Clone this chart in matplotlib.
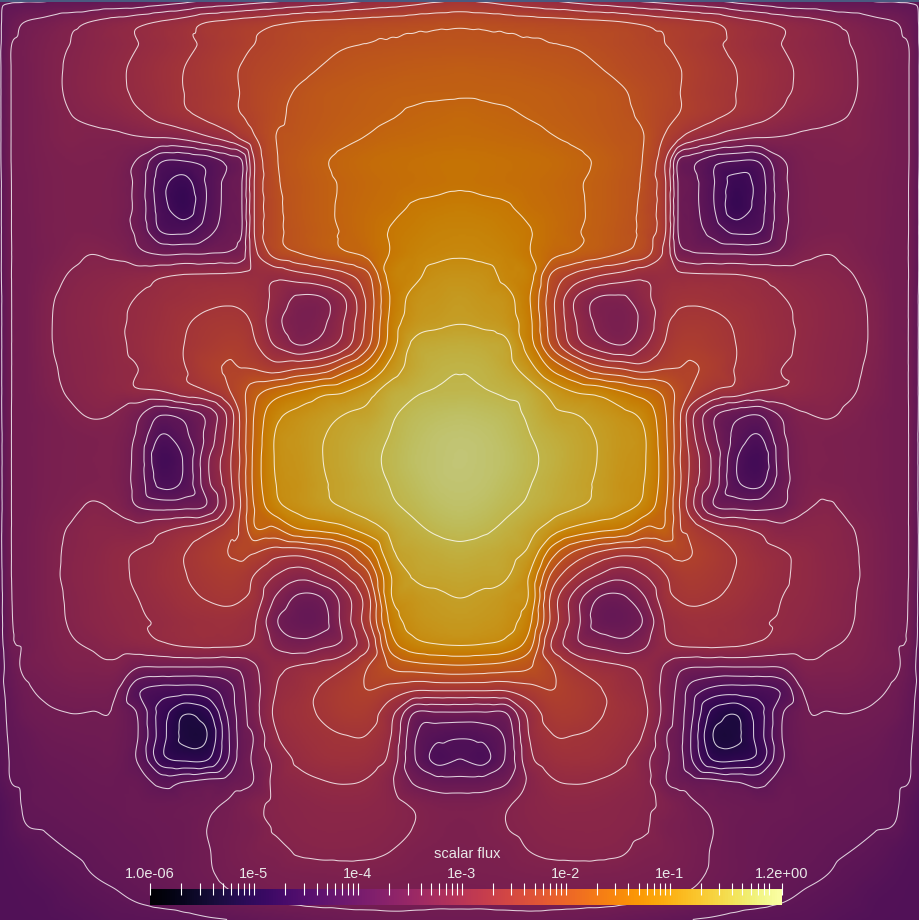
# scalar flux map with contours
import numpy as np
import matplotlib
matplotlib.use('Agg')
from matplotlib import pyplot as plt
from matplotlib import tri
from matplotlib.colors import ListedColormap

plt.rcParams['font.family'] = ['Liberation Sans', 'DejaVu Sans']

# sample positions in image pixels, left half only (the map is mirrored about x=460)
x_samples = list(range(0, 461, 23))
y_samples = list(range(0, 921, 23))

# flux, in contour-line units: line k sits at level k
flux_levels = [
    [-.2, -.1, -.1, -.1, -.1, -.05, 0, .3, .6, .95, 1.2, 1.5, 1.75, 2, 2.3, 2.6, 2.9, 3.2, 3.5, 3.8, 4],
    [-.1, 1, 1.3, 1.7, 2.1, 2.45, 2.8, 3.15, 3.5, 4.05, 4.3, 4.55, 4.85, 5.1, 5.25, 5.35, 5.45, 5.55, 5.65, 5.75, 5.8],
    [-.1, 1.2, 1.65, 2, 2.35, 2.65, 3, 3.35, 3.75, 4.2, 4.6, 5, 5.25, 5.5, 5.75, 5.95, 6.05, 6.12, 6.18, 6.22, 6.25],
    [-.1, 1.2, 1.7, 2.1, 2.45, 2.8, 3.2, 3.6, 4, 4.4, 4.85, 5.2, 5.45, 5.75, 6.05, 6.25, 6.4, 6.5, 6.6, 6.65, 6.7],
    [-.1, 1.2, 1.7, 2.1, 2.45, 2.8, 3.15, 3.55, 4, 4.35, 4.8, 5.3, 5.7, 6.1, 6.4, 6.55, 6.7, 6.8, 6.85, 6.88, 6.9],
    [-.1, 1.2, 1.6, 1.97, 2.2, 2.45, 2.85, 3.35, 3.8, 4.25, 4.75, 5.2, 5.8, 6.2, 6.45, 6.65, 6.8, 6.95, 7.1, 7.2, 7.3],
    [-.1, 1.2, 1.6, 1.9, 1.8, 1.8, 1.92, 1.97, 2.2, 2.8, 3.5, 4.8, 6, 6.3, 6.6, 6.85, 7.05, 7.25, 7.35, 7.45, 7.5],
    [-.1, 1.2, 1.5, 1.65, 1.65, 1.55, .9, -.9, -1, -.6, .4, 3.8, 5.9, 6.5, 6.9, 7.2, 7.45, 7.6, 7.7, 7.8, 7.85],
    [-.15, 1.15, 1.45, 1.6, 1.6, 1.45, .7, -1.6, -2.4, -.9, .5, 3.8, 5.8, 6.4, 6.8, 7.1, 7.35, 7.55, 7.7, 7.8, 7.9],
    [-.15, 1.15, 1.45, 1.6, 1.6, 1.45, .7, -1.5, -2.6, -.9, .5, 3.8, 5.7, 6.4, 6.8, 7.15, 7.45, 7.7, 8.1, 8.25, 8.35],
    [-.15, 1.1, 1.45, 1.6, 1.6, 1.45, .75, -1.1, -1.3, -.4, .6, 3.8, 5.7, 6.3, 6.75, 7.1, 7.55, 8.05, 8.35, 8.6, 8.65],
    [-.15, 1.1, 1.4, 1.75, 1.98, 1.8, 1.2, .85, .9, .95, 1.1, 3.5, 5.45, 6, 6.5, 6.9, 7.3, 8.05, 8.6, 8.8, 8.9],
    [-.15, 1.1, 1.6, 2.05, 2.3, 2.45, 2.6, 2.9, 3.1, 3.15, 3.2, 3.3, 3.2, 3.6, 4, 4.7, 5.8, 8.4, 8.8, 9.3, 9.4],
    [-.2, 1.1, 1.8, 2.25, 2.5, 2.75, 3.05, 3.35, 3.55, 3.75, 3.85, 3.6, 2.7, 1.8, 1.9, 3, 5.3, 8.1, 9.3, 9.55, 9.75],
    [-.2, 1.1, 1.85, 2.3, 2.55, 2.85, 3.15, 3.5, 3.9, 4.2, 4.3, 3.9, 2.3, 1.45, 1.8, 3.1, 5.4, 8.3, 9.5, 9.8, 9.95],
    [-.2, 1.1, 1.85, 2.25, 2.5, 2.8, 3.2, 3.6, 4, 4.4, 4.7, 4.2, 2.9, 2, 2.5, 3.6, 5.8, 8.5, 10.2, 10.5, 10.6],
    [-.2, 1.1, 1.75, 2.2, 2.45, 2.75, 3, 3.55, 3.95, 4.7, 5.1, 4.95, 4.5, 4.9, 5.3, 6.5, 7.8, 9.4, 10.4, 10.85, 10.95],
    [-.2, 1.1, 1.65, 2.1, 2.4, 2.65, 2.9, 3, 3.6, 4, 5, 6.5, 7.4, 8, 8.6, 8.9, 9.6, 10.5, 10.85, 11.05, 11.1],
    [-.2, 1.1, 1.4, 1.8, 2.1, 1.95, 1.2, .1, .4, 1.3, 3.5, 6.9, 8.7, 9.25, 9.65, 10, 10.2, 10.85, 11.3, 11.5, 11.6],
    [-.25, 1.1, 1.4, 1.55, 1.65, 1.65, .8, -1.1, -.3, 1.3, 3.6, 7, 9.1, 9.55, 9.95, 10.3, 10.65, 11.05, 11.5, 11.8, 11.9],
    [-.25, 1.1, 1.4, 1.55, 1.65, 1.6, .6, -1.8, -.9, 1.8, 3.9, 7.1, 9.1, 9.5, 9.98, 10.35, 10.8, 11.15, 11.6, 11.85, 12],
    [-.25, 1.1, 1.4, 1.55, 1.65, 1.6, .6, -1.3, -.8, 1.7, 3.8, 7.1, 9, 9.4, 9.9, 10.25, 10.65, 11.05, 11.45, 11.8, 11.9],
    [-.25, 1.1, 1.45, 1.7, 2.1, 1.85, .95, .6, .7, 1.1, 3.5, 6.9, 8.7, 9.3, 9.75, 10.1, 10.45, 10.85, 11.2, 11.55, 11.7],
    [-.2, 1.15, 1.6, 2.05, 2.4, 2.4, 2.3, 2.8, 3.2, 3.7, 4.7, 6.8, 6.9, 8, 8.3, 8.75, 9.5, 10.3, 10.8, 11.15, 11.3],
    [-.2, 1.15, 1.65, 2.15, 2.45, 2.8, 3.05, 3.4, 3.95, 4.5, 5.05, 5.1, 4.5, 4.45, 5, 5.9, 7.5, 9.8, 10.35, 10.6, 10.75],
    [-.25, 1.15, 1.65, 2.2, 2.5, 2.85, 3.1, 3.55, 3.95, 4.35, 4.6, 4.05, 3, 2.4, 3, 4.1, 5.8, 9, 10.1, 10.25, 10.35],
    [-.3, 1.1, 1.65, 2.1, 2.45, 2.8, 3, 3.35, 3.75, 4.05, 4.2, 3.75, 1.9, .8, 1, 2.6, 4.7, 8.9, 9.55, 9.85, 10],
    [-.3, 1.1, 1.6, 2.05, 2.4, 2.65, 2.9, 3.1, 3.4, 3.55, 3.6, 3.2, 1.1, .4, .6, 2.5, 4.7, 8.3, 9.3, 9.6, 9.7],
    [-.35, 1.05, 1.55, 1.9, 2.1, 2.4, 2.65, 2.9, 3.15, 3.25, 3.2, 2.9, 1.8, 1.3, 1.7, 2.3, 3.9, 7.5, 8.7, 9, 9.1],
    [-.4, 1.1, 1.4, 1.7, 1.75, 1.8, 1.05, 1, 1, 1, 1.05, 1.8, 2.8, 3.1, 3.4, 3.95, 5, 6.1, 6.5, 6.7, 6.8],
    [-.25, .8, 1.15, 1.3, 1.35, 1.15, -.8, -1.4, -1.5, -1.3, -.3, 1.5, 3, 3.5, 4.1, 4.6, 5, 4.6, 4.1, 4.1, 4.1],
    [-.25, .65, .9, 1, .98, .9, -.1, -2.4, -3.9, -3.3, -.6, 1.5, 3.2, 3.7, 4.1, 4.5, 4.45, 3.3, 1, .9, .9],
    [-.25, .3, .7, .8, .85, .8, 0, -2.5, -4.2, -4, -.9, 1, 2.9, 3.5, 3.8, 3.98, 3.95, 3, .2, -.7, -.9],
    [-.3, .2, .5, .6, .7, .7, -.1, -2.6, -3.2, -3.1, -.8, 1.1, 2.3, 3.2, 3.55, 3.65, 3.5, 2.7, .1, -1.3, -1],
    [-.5, .1, .35, .45, .55, .55, .45, -.3, 0, .3, .5, 1, 2.3, 2.7, 2.95, 3.05, 2.9, 2.15, .9, .4, .35],
    [-.85, .05, .25, .35, .45, .5, .6, .6, .7, .85, 1.15, 1.75, 2.2, 2.4, 2.55, 2.6, 2.55, 2.3, 1.9, 1.6, 1.55],
    [-.92, -.1, .05, .2, .3, .4, .5, .6, .7, 1, 1.25, 1.5, 2.1, 2.3, 2.4, 2.4, 2.35, 2.2, 1.98, 1.7, 1.6],
    [-.95, -.6, -.2, 0, .15, .3, .4, .55, .7, .95, 1.3, 1.6, 1.75, 2.1, 2.2, 2.2, 2.15, 2, 1.7, 1.6, 1.55],
    [-.96, -.8, -.5, -.25, 0, .15, .3, .5, .7, .9, 1.2, 1.35, 1.5, 1.6, 1.65, 1.7, 1.7, 1.65, 1.55, 1.5, 1.45],
    [-.97, -.9, -.8, -.5, -.3, -.1, .1, .25, .45, .6, .85, 1.05, 1.2, 1.25, 1.3, 1.3, 1.3, 1.3, 1.25, 1.2, 1.2],
    [-.98, -.95, -.9, -.8, -.6, -.4, -.35, -.3, -.25, -.1, 0, .15, .3, .45, .6, .7, .75, .8, .8, .8, .8],
]

# two extra columns where lines run close together: near the left edge and at the cross edge
x_edge = 11
edge_column = [-.1, .6, .98, 1, 1, 1, 1, 1, .98, .98, .98, .97, .98, .97, .97, .97, .97, .97, .98, .98, .98,
               .98, .98, .98, .98, .98, .95, .92, .85, .55, .35, .2, .1, .05, 0, -.4, -.55, -.8, -.9, -.95, -.97]
x_band = 242
band_column = [1.35, 4.45, 4.8, 5.05, 5.05, 5, 4.2, 1, 1, 1, 1, 1.5, 3.25, 3.8, 4.2, 4.6, 5, 5.7, 5.4, 5.4, 5.3,
               5.4, 5.2, 5.2, 5.3, 4.45, 4.05, 3.45, 3.1, 1.3, .8, .6, .5, .55, .75, 1.45, 1.38, 1.45, 1.28, .95, .07]

# contour lines drawn in the picture
line_levels = list(range(-4, 12))

# conversion from contour-line units to log10(flux)
level_anchors = [-5, 0, 14]
log_flux_anchors = [-5.4, -3.95, 0.62]

# colour bar
bar_min = 1.0e-6
bar_max = 1.2
bar_labels = ['1.0e-06', '1e-5', '1e-4', '1e-3', '1e-2', '1e-1', '1.2e+00']
bar_label_values = [1e-6, 1e-5, 1e-4, 1e-3, 1e-2, 1e-1, 1.2]

# add the extra columns, then mirror the left half
half = np.array(flux_levels, dtype=float)
half = np.insert(half, 1, edge_column, axis=1)
i_band = 1 + x_samples.index(230) + 1
half = np.insert(half, i_band, band_column, axis=1)
x_half = sorted(x_samples + [x_edge, x_band])
levels_full = np.hstack([half, half[:, -2::-1]])
x_full = np.array(x_half + [920 - v for v in x_half[-2::-1]], dtype=float)
y_full = np.array(y_samples, dtype=float)

X, Y = np.meshgrid(x_full, y_full)
triang = tri.Triangulation(X.ravel(), Y.ravel())
smooth = tri.CubicTriInterpolator(triang, levels_full.ravel(), kind='geom')

xf = np.arange(0, 920.5, 1.5)
yf = np.arange(0, 920.5, 1.5)
Xf, Yf = np.meshgrid(xf, yf)
Zf = np.ma.filled(smooth(Xf, Yf), np.nan)

log_flux = np.interp(Zf, level_anchors, log_flux_anchors)

# the surface is lit a little darker than the colour bar
base = plt.get_cmap('inferno')(np.linspace(0, 1, 256))
dimmed = base.copy()
dimmed[:, :3] = dimmed[:, :3] * 0.79
cmap_map = ListedColormap(dimmed)

fig = plt.figure(figsize=(9.2, 9.21), dpi=100)
ax = fig.add_axes([0, 0, 1, 1])
ax.imshow(log_flux, extent=[0, 920, 920, 0], cmap=cmap_map, vmin=np.log10(bar_min),
          vmax=np.log10(bar_max), interpolation='bilinear', aspect='auto')
ax.contour(Xf, Yf, Zf, levels=line_levels, colors='white', linewidths=0.75, alpha=0.8,
           linestyles='solid')
ax.axhspan(0, 2, color='#4a5a80', lw=0, zorder=5)
ax.set_xlim(0, 920)
ax.set_ylim(921, 0)
ax.axis('off')

# colour bar drawn on a log axis
W, H = 920.0, 921.0
cax = fig.add_axes([150 / W, 1 - 905 / H, 632 / W, 16 / H])
edges = np.logspace(np.log10(bar_min), np.log10(bar_max), 257)
cax.pcolormesh(edges, [0, 1], np.linspace(0, 1, 256)[None, :], cmap='inferno', vmin=0, vmax=1)
cax.set_xscale('log')
cax.set_xlim(bar_min, bar_max)
cax.set_yticks([])
for s in cax.spines.values():
    s.set_visible(False)
cax.set_axisbelow(False)
cax.xaxis.set_ticks_position('top')
cax.set_xticks(bar_label_values)
cax.set_xticklabels(bar_labels, fontsize=10.5, color='#e8e8e8')
minor = [m * 10.0 ** e for e in range(-6, 1) for m in range(2, 10) if m * 10.0 ** e < bar_max]
cax.set_xticks(minor, minor=True)
cax.set_xticklabels([], minor=True)
cax.tick_params(axis='x', which='both', direction='inout', length=8, width=0.8, color='white', pad=2)
fig.text(467 / W, 1 - 854 / H, 'scalar flux', ha='center', va='center', fontsize=10.5, color='#e8e8e8')

fig.savefig('out.png', dpi=100)
